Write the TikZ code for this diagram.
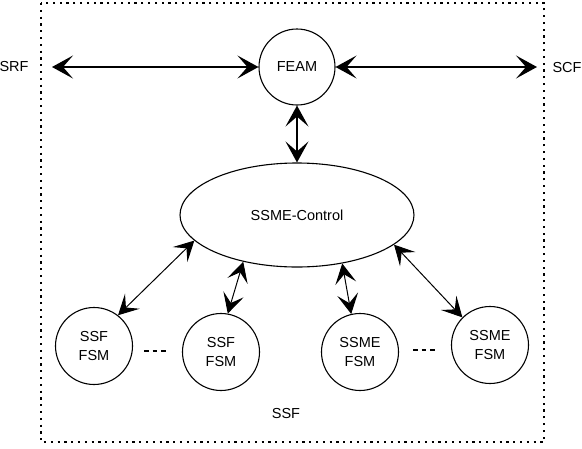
\documentclass[tikz,border=0pt]{standalone}
\usepackage{fontspec}
\setmainfont{Liberation Sans}
\usetikzlibrary{arrows.meta,shapes.geometric}
\begin{document}
\begin{tikzpicture}[x=1pt,y=-1pt,
  every node/.style={font=\fontsize{14.5}{19.5}\selectfont},
  fsm/.style={draw,circle,line width=1.1pt,minimum size=77pt,inner sep=0pt,align=center},
  bigarrow/.style={line width=1.5pt,{Stealth[length=21pt,width=23pt,inset=10pt]}-{Stealth[length=21pt,width=23pt,inset=10pt]}},
  thinarrow/.style={line width=1pt,{Stealth[length=20pt,width=21pt,inset=9pt]}-{Stealth[length=20pt,width=21pt,inset=9pt]}},
  border/.style={line width=2.4pt,dash pattern=on 2.2pt off 4.6pt},
  dots/.style={line width=1.2pt,dash pattern=on 4.5pt off 4pt}]
\useasboundingbox (0,0) rectangle (582,448);
\draw[border] (41,3) rectangle (544,442);
\node[fsm,minimum size=76pt] (feam) at (297,67) {FEAM};
\node[draw,ellipse,line width=1.1pt,minimum width=234pt,minimum height=104pt,inner sep=0pt] (ctrl) at (297,215) {SSME-Control};
\node (srf) at (14,67) {SRF};
\node (scf) at (567,68) {SCF};
\coordinate (srfend) at (52,67);
\coordinate (scfend) at (537,67);
\node[fsm] (f1) at (94,346) {SSF\\FSM};
\node[fsm] (f2) at (221,352) {SSF\\FSM};
\node[fsm] (f3) at (360,352) {SSME\\FSM};
\node[fsm] (f4) at (490,345) {SSME\\FSM};
\node (ssf) at (286,414) {SSF};
\coordinate (d1a) at (144,351); \coordinate (d1b) at (166,351);
\coordinate (d2a) at (413,350); \coordinate (d2b) at (435,350);
\draw[dots] (d1a) -- (d1b);
\draw[dots] (d2a) -- (d2b);
\draw[bigarrow] (srfend) -- (feam.west);
\draw[bigarrow] (feam.east) -- (scfend);
\draw[bigarrow] (feam.south) -- (ctrl.north);
\draw[thinarrow] (ctrl.194.7) -- (f1.52);
\draw[thinarrow] (ctrl.221.3) -- (f2.80);
\draw[thinarrow] (ctrl.313.2) -- (f3.103);
\draw[thinarrow] (ctrl.343.1) -- (f4.135);
\end{tikzpicture}
\end{document}
